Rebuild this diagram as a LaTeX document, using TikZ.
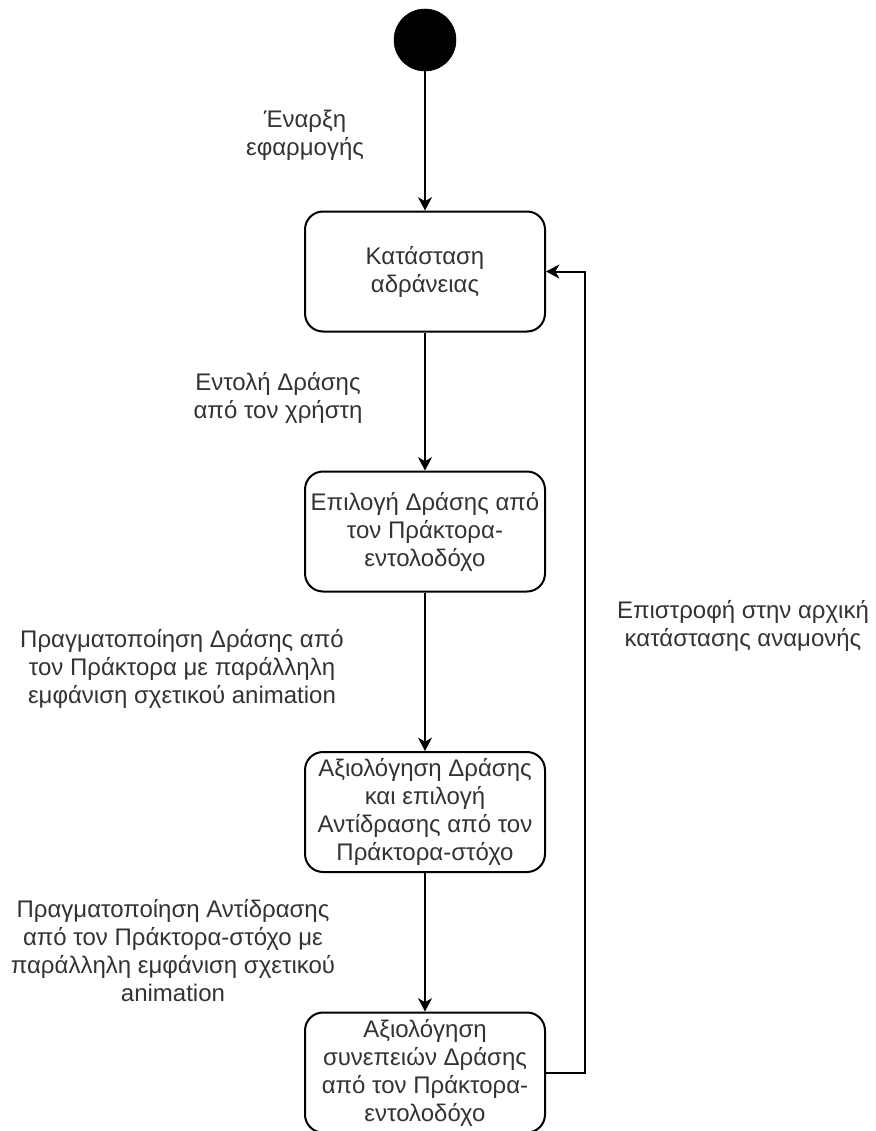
\documentclass[tikz,border=0pt]{standalone}
\usepackage{fontspec}
\setmainfont{Liberation Sans}
\usetikzlibrary{arrows.meta}
\definecolor{txt}{HTML}{333333}
\begin{document}
\begin{tikzpicture}[x=0.75pt,y=-0.75pt,
  state/.style={draw=black, line width=1.5pt, rounded corners=13.5pt,
    minimum width=180pt, minimum height=90pt, inner sep=2pt,
    align=center, text=txt, font=\fontsize{18pt}{21pt}\selectfont},
  startdot/.style={circle, fill=black, draw=black, minimum size=46.5pt, inner sep=0pt},
  flow/.style={draw=black, line width=1.5pt,
    -{Stealth[length=10pt,width=10.5pt,inset=3pt]}},
  caption/.style={align=center, text=txt, inner sep=0pt,
    font=\fontsize{18pt}{21pt}\selectfont}]
\useasboundingbox (0,0) rectangle (875,1131);

% states
\node[startdot] (start) at (425,40) {};
\node[state] (idle) at (425,271.5) {Κατάσταση\\αδράνειας};
\node[state] (choose) at (425,531.5) {Επιλογή Δράσης από\\τον Πράκτορα-\\εντολοδόχο};
\node[state] (react) at (425,812) {Αξιολόγηση Δράσης\\και επιλογή\\Αντίδρασης από τον\\Πράκτορα-στόχο};
\node[state] (assess) at (425,1072.5) {Αξιολόγηση\\συνεπειών Δράσης\\από τον Πράκτορα-\\εντολοδόχο};

% transitions
\draw[flow] (start) -- (idle);
\draw[flow] (idle) -- (choose);
\draw[flow] (choose) -- (react);
\draw[flow] (react) -- (assess);
\draw[flow] (assess.east) -- ++(39,0) |- (idle.east);

% transition labels
\node[caption] (l1) at (305,135) {Έναρξη\\εφαρμογής};
\node[caption] (l2) at (278,398) {Εντολή Δράσης\\από τον χρήστη};
\node[caption] (l3) at (182,669) {Πραγματοποίηση Δράσης από\\τον Πράκτορα με παράλληλη\\εμφάνιση σχετικού animation};
\node[caption] (l4) at (173,951) {Πραγματοποίηση Αντίδρασης\\από τον Πράκτορα-στόχο με\\παράλληλη εμφάνιση σχετικού\\animation};
\node[caption] (l5) at (743,626) {Επιστροφή στην αρχική\\κατάστασης αναμονής};
\end{tikzpicture}
\end{document}
